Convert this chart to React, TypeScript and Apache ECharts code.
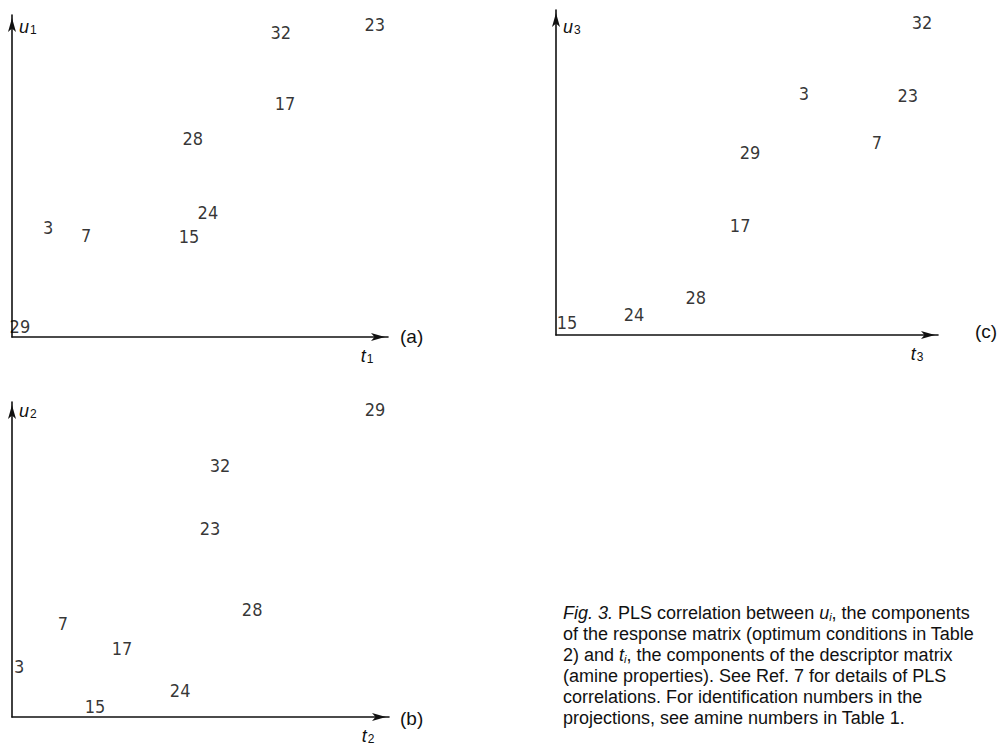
import React, { useEffect, useRef } from "react";
import * as echarts from "echarts";

// Panel (a): t1 vs u1
const idsA = ["32", "23", "17", "28", "24", "3", "7", "15", "29"];
const tA = [71.5, 96.5, 72.6, 48.1, 52.1, 9.6, 19.7, 47.1, 2.1];
const uA = [94.7, 97.2, 72.4, 61.8, 38.8, 33.9, 31.4, 31.1, 3.4];

// Panel (c): t3 vs u3
const idsC = ["32", "3", "23", "7", "29", "17", "28", "24", "15"];
const tC = [95.8, 64.9, 92.1, 84.0, 50.8, 48.2, 36.6, 20.4, 2.9];
const uC = [96.3, 74.2, 73.8, 59.1, 56.3, 33.8, 11.4, 6.2, 3.7];

// Panel (b): t2 vs u2
const idsB = ["29", "32", "23", "28", "7", "17", "3", "24", "15"];
const tB = [96.3, 55.2, 52.5, 63.7, 13.5, 29.2, 1.9, 44.6, 22.0];
const uB = [97.5, 80.0, 60.0, 34.1, 29.7, 21.6, 15.9, 8.4, 3.4];

const captionLines = [
  "{it|Fig. 3.} PLS correlation between {it|u}{sub|i}, the components",
  "of the response matrix (optimum conditions in Table",
  "2) and {it|t}{sub|i}, the components of the descriptor matrix",
  "(amine properties). See Ref. 7 for details of PLS",
  "correlations. For identification numbers in the",
  "projections, see amine numbers in Table 1.",
];

const INK = "#111111";
const NUM_FONT = "'Liberation Sans Narrow', 'DejaVu Sans Condensed', 'Liberation Sans', sans-serif";
const TEXT_FONT = "'Liberation Sans', Arial, Helvetica, sans-serif";

const axisRich = {
  v: { fontSize: 18, fontStyle: "italic", fontFamily: TEXT_FONT, color: INK, lineHeight: 18, verticalAlign: "top" },
  s: { fontSize: 12, fontFamily: TEXT_FONT, color: INK, lineHeight: 12, padding: [9, 0, 0, 1], verticalAlign: "bottom" },
};

function axisLine() {
  return {
    show: true,
    onZero: false,
    symbol: ["none", "arrow"],
    symbolSize: [6, 14],
    symbolOffset: [0, -3],
    lineStyle: { color: INK, width: 1.6 },
  };
}

function makeX(idx: number, n: string) {
  return {
    type: "value",
    gridIndex: idx,
    min: 0,
    max: 100,
    axisTick: { show: false },
    axisLabel: { show: false },
    splitLine: { show: false },
    axisLine: axisLine(),
    name: `{v|t}{s|${n}}`,
    nameLocation: "end",
    nameGap: -21,
    nameTextStyle: { align: "center", verticalAlign: "top", padding: [10, 0, 0, 0], rich: axisRich },
  };
}

function makeY(idx: number, n: string, gap: number) {
  return {
    type: "value",
    gridIndex: idx,
    min: 0,
    max: 100,
    axisTick: { show: false },
    axisLabel: { show: false },
    splitLine: { show: false },
    axisLine: axisLine(),
    name: `{v|u}{s|${n}}`,
    nameLocation: "end",
    nameGap: gap,
    nameTextStyle: { align: "left", verticalAlign: "middle", padding: [0, 0, 0, 7], rich: axisRich },
  };
}

function makeSeries(idx: number, ids: string[], t: number[], u: number[]) {
  return {
    type: "scatter",
    xAxisIndex: idx,
    yAxisIndex: idx,
    symbolSize: 1,
    itemStyle: { color: "rgba(0,0,0,0)" },
    silent: true,
    label: {
      show: true,
      position: "inside",
      formatter: "{b}",
      color: "#000000",
      fontSize: 18,
      fontFamily: NUM_FONT,
    },
    data: ids.map((id, i) => ({ name: id, value: [t[i], u[i]] })),
  };
}

export default function App() {
  const ref = useRef<HTMLDivElement>(null);
  useEffect(() => {
    if (!ref.current) return;
    const chart = echarts.init(ref.current, null, { renderer: "svg" });
    const letterStyle = { fontSize: 19, fontFamily: TEXT_FONT, fill: INK, verticalAlign: "middle", align: "left" };
    chart.setOption({
      animation: false,
      backgroundColor: "#ffffff",
      grid: [
        { left: 12, top: 15, width: 376, height: 322 },
        { left: 556, top: 10, width: 382, height: 325 },
        { left: 12, top: 402, width: 377, height: 320 },
      ],
      xAxis: [makeX(0, "1"), makeX(1, "3"), makeX(2, "2")],
      yAxis: [makeY(0, "1", -12), makeY(1, "3", -17), makeY(2, "2", -9)],
      series: [makeSeries(0, idsA, tA, uA), makeSeries(1, idsC, tC, uC), makeSeries(2, idsB, tB, uB)],
      graphic: [
        { type: "text", left: 400, top: 327, style: { ...letterStyle, text: "(a)" } },
        { type: "text", left: 975, top: 322, style: { ...letterStyle, text: "(c)" } },
        { type: "text", left: 400, top: 709, style: { ...letterStyle, text: "(b)" } },
        {
          type: "text",
          x: 563,
          y: 602,
          style: {
            text: captionLines.join("\n"),
            fontSize: 18,
            fontFamily: TEXT_FONT,
            fill: INK,
            lineHeight: 21,
            align: "left",
            verticalAlign: "top",
            rich: {
              it: { fontSize: 18, fontStyle: "italic", fontFamily: TEXT_FONT, fill: INK, lineHeight: 21 },
              sub: { fontSize: 11, fontStyle: "italic", fontFamily: TEXT_FONT, fill: INK, lineHeight: 21, padding: [8, 0, 0, 0] },
            },
          },
        },
      ],
    });
    return () => chart.dispose();
  }, []);
  return (
    <div
      ref={ref}
      style={{ position: "fixed", left: 0, top: 0, width: 1000, height: 745, background: "#fff" }}
    />
  );
}
